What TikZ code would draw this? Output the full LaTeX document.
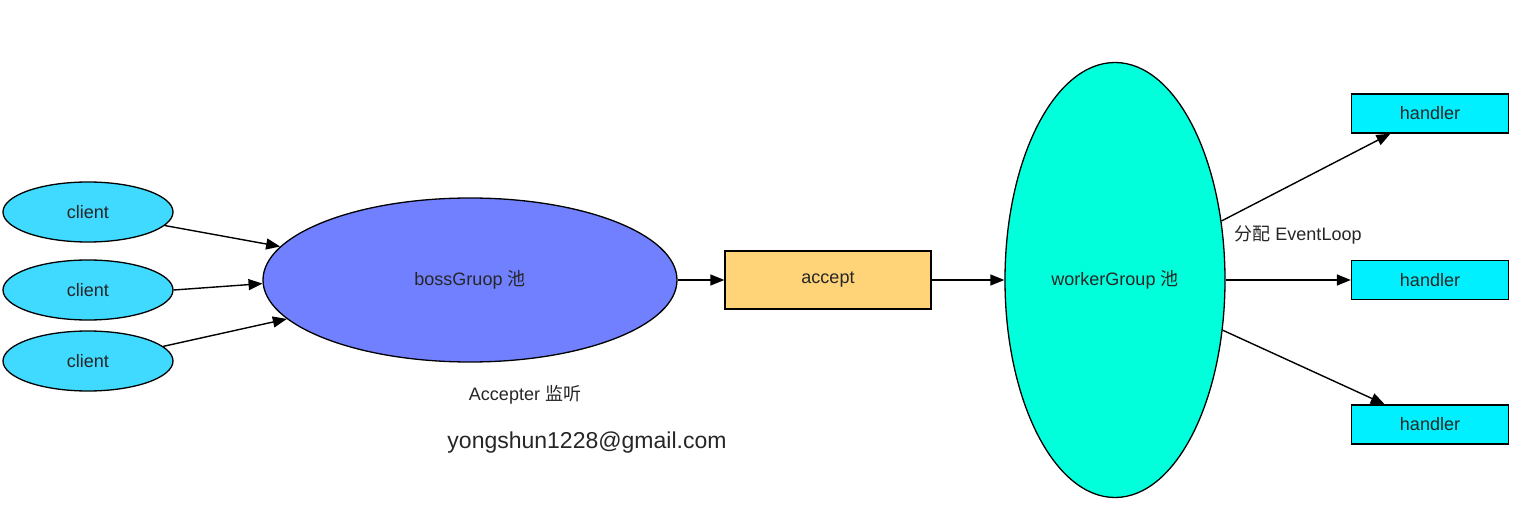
\documentclass[tikz,border=0pt]{standalone}
\usepackage{fontspec}
\setmainfont{Liberation Sans}
\newfontfamily\cjk{Noto Sans CJK SC}
\usepackage{tikz}
\usetikzlibrary{positioning, arrows.meta, shapes.geometric}

\definecolor{clientc}{HTML}{40D9FF}
\definecolor{bossc}{HTML}{7080FF}
\definecolor{acceptc}{HTML}{FFD479}
\definecolor{workerc}{HTML}{00FFDA}
\definecolor{handlerc}{HTML}{00F0FF}

\begin{document}
\begin{tikzpicture}[
  x=1pt, y=-1pt,
  font=\fontsize{18}{20}\selectfont,
  text=black!85,
  clientl/.style={draw, ellipse, line width=1.3pt, fill=clientc, minimum width=170pt, minimum height=60pt, inner sep=0pt},
  poolel/.style={draw, ellipse, line width=1.3pt, inner sep=0pt},
  boxl/.style={draw, rectangle, line width=1.3pt, inner sep=0pt},
  arr/.style={-{Triangle[length=14pt, width=11pt]}, line width=1.4pt},
  lbl/.style={inner sep=1pt}
]
  \path[use as bounding box] (0,0) rectangle (1527,505);

  % Klijenti
  \node[clientl] (c1) at (88, 212) {client};
  \node[clientl] (c2) at (88, 290) {client};
  \node[clientl] (c3) at (88, 361) {client};

  % bossGroup
  \node[poolel, fill=bossc, minimum width=414pt, minimum height=164pt] (boss) at (470, 280)
    {bossGruop {\cjk 池}};

  % accept
  \node[boxl, fill=acceptc, minimum width=206pt, minimum height=58pt] (accept) at (828, 280) {accept};

  % workerGroup
  \node[poolel, fill=workerc, minimum width=220pt, minimum height=435pt] (worker) at (1115, 280)
    {workerGroup {\cjk 池}};

  % Handleri
  \node[boxl, fill=handlerc, minimum width=157pt, minimum height=39pt] (h1) at (1430, 113.5) {handler};
  \node[boxl, fill=handlerc, minimum width=157pt, minimum height=39pt] (h2) at (1430, 280) {handler};
  \node[boxl, fill=handlerc, minimum width=157pt, minimum height=39pt] (h3) at (1430, 424.5) {handler};

  % Oznake
  \node[lbl] (acclbl) at (525, 395) {Accepter {\cjk 监听}};
  \node[lbl, font=\fontsize{23}{26}\selectfont] (mail) at (587, 443) {yongshun1228@gmail.com};
  \node[lbl] (distlbl) at (1298, 235) {{\cjk 分配} EventLoop};

  % Poveznice
  \draw[arr] (c1.-10) -- (boss.170);
  \draw[arr] (c2.east) -- (boss.181);
  \draw[arr] (c3.11) -- (boss.192);
  \draw[arr] (boss.east) -- (accept.west);
  \draw[arr] (accept.east) -- (worker.west);
  \draw[arr] (worker.29) -- (h1.207);
  \draw[arr] (worker.east) -- (h2.west);
  \draw[arr] (worker.-25) -- (h3.156);
\end{tikzpicture}
\end{document}
